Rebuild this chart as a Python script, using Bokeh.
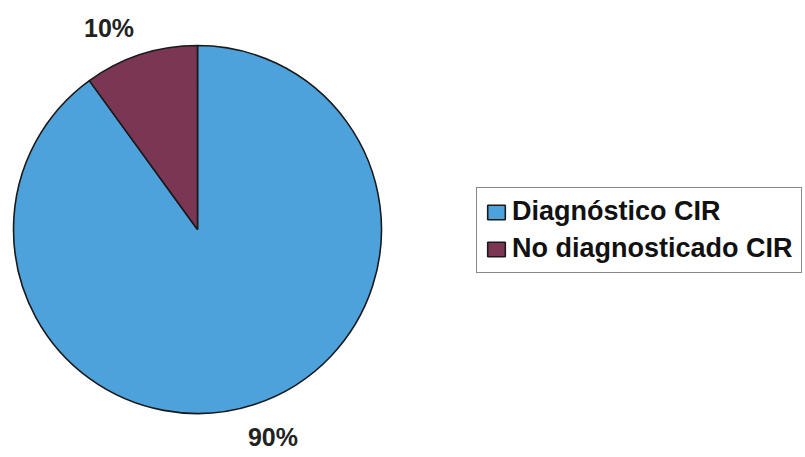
import math

from bokeh.core.properties import value
from bokeh.embed import file_html
from bokeh.models import ColumnDataSource, Legend, LegendItem
from bokeh.plotting import figure
from bokeh.resources import INLINE

# Pie data
categories = ["Diagnóstico CIR", "No diagnosticado CIR"]
percents = [90, 10]
colors = ["#4da2dc", "#7b3653"]
label_texts = ["90%", "10%"]

# Geometry (screen-like units, y up)
W, H = 805, 457
cx, cy, R = 197, 228, 184
label_r = 215
label_dx = [9, -22]
label_dy = -3

total = float(sum(percents))
starts, ends, lx, ly = [], [], [], []
cum = 0.0
for i, v in enumerate(percents):
    a0 = math.pi / 2 - 2 * math.pi * cum / total
    cum += v
    a1 = math.pi / 2 - 2 * math.pi * cum / total
    starts.append(a0)
    ends.append(a1)
    mid = (a0 + a1) / 2
    lx.append(cx + label_r * math.cos(mid) + label_dx[i])
    ly.append(cy + label_r * math.sin(mid) + label_dy)

src = ColumnDataSource(dict(
    cat=categories, pct=percents, color=colors,
    start=starts, end=ends, lx=lx, ly=ly, txt=label_texts,
))

p = figure(width=W, height=H, x_range=(0, W), y_range=(0, H),
           x_axis_type=None, y_axis_type=None, min_border=0,
           toolbar_location=None, output_backend="svg")
p.grid.visible = False
p.outline_line_color = None
p.background_fill_color = "white"
p.border_fill_color = "white"

wedges = p.wedge(x=cx, y=cy, radius=R, start_angle="start", end_angle="end",
                 direction="clock", fill_color="color", line_color="#1a1a1a",
                 line_width=1.6, source=src)

p.text(x="lx", y="ly", text="txt", source=src, text_align="center",
       text_baseline="middle", text_font=value("Liberation Sans"),
       text_font_style="bold", text_font_size="25px", text_color="#222222")

items = [LegendItem(label=c, renderers=[wedges], index=i)
         for i, c in enumerate(categories)]
legend = Legend(items=items, location=(476, 184), orientation="vertical",
                label_text_font="Liberation Sans", label_text_font_style="bold",
                label_text_font_size="27px", label_text_color="#111111",
                label_standoff=5, glyph_width=22, glyph_height=18,
                spacing=6, padding=8, margin=0,
                border_line_color="#111111", border_line_width=1.8,
                background_fill_color="white", background_fill_alpha=1.0)
p.add_layout(legend, "center")

open("out.html", "w").write(file_html(p, INLINE))
